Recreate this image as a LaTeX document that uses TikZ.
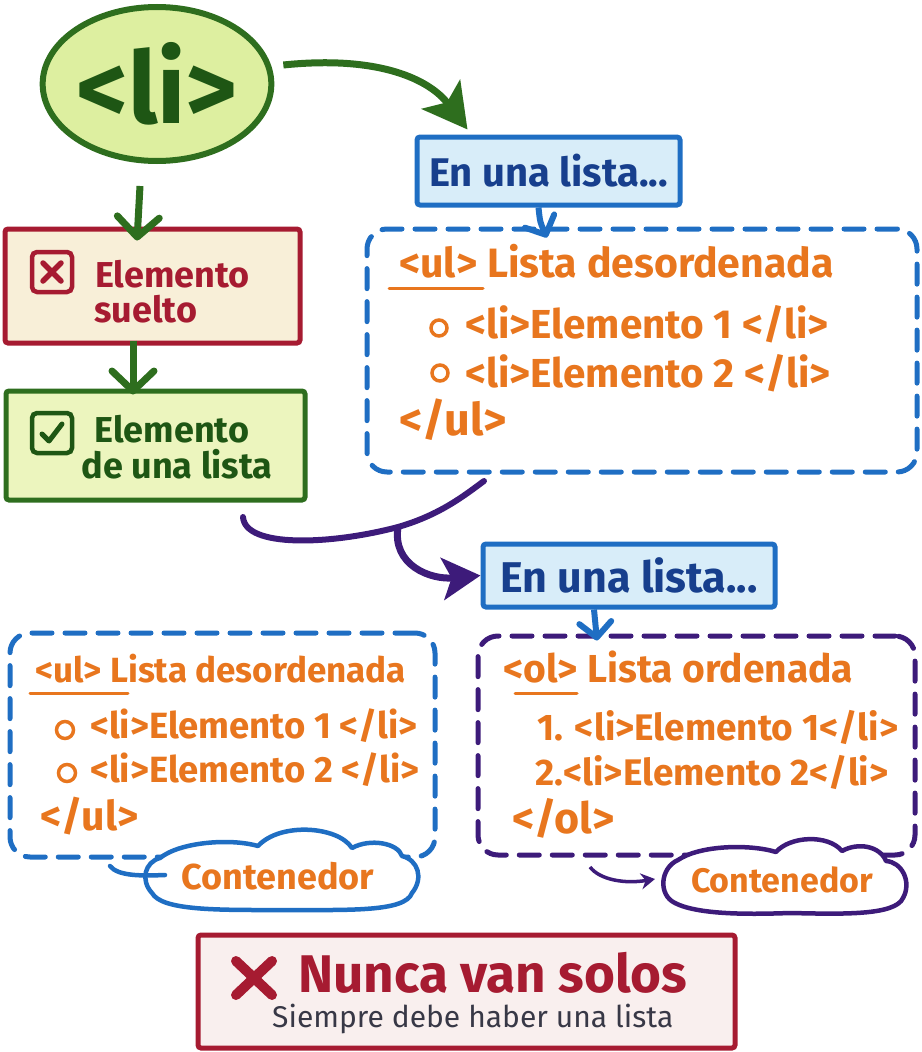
\documentclass[tikz,border=0pt]{standalone}
\usepackage{fontspec}
\setmainfont{Fira Sans}
\usetikzlibrary{arrows.meta,shapes.geometric,calc}
\definecolor{gline}{HTML}{2E6E1E}
\definecolor{gtext}{HTML}{1E5614}
\definecolor{gfillA}{HTML}{DDEFA0}
\definecolor{gfillB}{HTML}{ECF5BE}
\definecolor{crim}{HTML}{A61B31}
\definecolor{cream}{HTML}{F8EFD8}
\definecolor{bline}{HTML}{1F6EC3}
\definecolor{bfill}{HTML}{D8EDF9}
\definecolor{btext}{HTML}{173F8D}
\definecolor{oran}{HTML}{E8761E}
\definecolor{purp}{HTML}{3D1B7A}
\definecolor{pinkf}{HTML}{F9EFEE}
\definecolor{grayt}{HTML}{383846}
\newcommand\fsz[1]{\fontsize{#1}{#1}\selectfont}
\begin{document}
\begin{tikzpicture}[x=1pt,y=-1pt,
  sbox/.style={draw=#1, line width=5pt, rounded corners=3pt, inner sep=0pt},
  dbox/.style={draw=#1, line width=5pt, rounded corners=20pt, dash pattern=on 20pt off 13pt, line cap=round, inner sep=0pt},
  txt/.style={inner sep=0pt, anchor=base west},
  otxt/.style={txt, text=oran, font=\bfseries\fsz{#1}},
  garrow/.style={draw=gline, line width=7pt, -{Straight Barb[length=20pt,width=42pt,round]}},
  barrow/.style={draw=bline, line width=6pt, -{Straight Barb[length=15pt,width=32pt,round]}},
  bul/.style={draw=oran, line width=3.5pt},
  uline/.style={draw=oran, line width=3pt, line cap=round},
  cloudline/.style={draw=#1, fill=white, line width=4.5pt, line cap=round, line join=round},
]
\useasboundingbox (0,0) rectangle (921,1052);

% ---- li ellipse
\node[ellipse, draw=gline, fill=gfillA, line width=6pt, minimum width=226pt, minimum height=154pt, inner sep=0pt, text=gtext, font=\bfseries\fsz{100}] (li) at (157,84) {<li>};

% ---- red box
\node[sbox=crim, fill=cream, minimum width=295pt, minimum height=114pt] (red) at (152.5,286) {};
\node[draw=crim, line width=4.5pt, rounded corners=5pt, minimum size=40pt, inner sep=0pt] (xic) at (52,272) {};
\draw[crim, line width=5.5pt, line cap=round] ($(xic.center)+(-9,-9)$) -- ($(xic.center)+(9,9)$) ($(xic.center)+(-9,9)$) -- ($(xic.center)+(9,-9)$);
\node[txt, text=crim, font=\bfseries\fsz{36}] (r1) at (95,287) {Elemento};
\node[txt, text=crim, font=\bfseries\fsz{36}] (r2) at (94,322) {suelto};

% ---- green box
\node[sbox=gline, fill=gfillB, minimum width=299pt, minimum height=109pt] (grn) at (155.5,445.5) {};
\node[draw=gtext, line width=4.5pt, rounded corners=5pt, minimum size=40pt, inner sep=0pt] (ckic) at (52,433) {};
\draw[gtext, line width=5pt, line cap=round, line join=round] ($(ckic.center)+(-10,1)$) -- ($(ckic.center)+(-3,8)$) -- ($(ckic.center)+(10,-9)$);
\node[anchor=base, inner sep=0pt, text=gtext, font=\bfseries\fsz{36}] (g1) at (172,442) {Elemento};
\node[anchor=base, inner sep=0pt, text=gtext, font=\bfseries\fsz{36}] (g2) at (177,478) {de una lista};

% ---- En una lista boxes
\node[sbox=bline, fill=bfill, minimum width=263pt, minimum height=68pt, text=btext, font=\bfseries\fsz{40}] (en1) at (548.5,171) {En una lista...};
\node[sbox=bline, fill=bfill, minimum width=292pt, minimum height=63pt, text=btext, font=\bfseries\fsz{43}] (en2) at (629,575.5) {En una lista...};

% ---- dashed containers
\node[dbox=bline, minimum width=550pt, minimum height=243pt] (ul1) at (642,350.5) {};
\node[dbox=bline, minimum width=425pt, minimum height=224pt] (ul2) at (222.5,745) {};
\node[dbox=purp, minimum width=437pt, minimum height=219pt] (ol) at (696.5,745.5) {};

% ul1 contents
\node[otxt=41] (u1h) at (399,277) {<ul> Lista desordenada};
\draw[uline] (389,288) -- (483,288);
\draw[bul] (439,328) circle[radius=8];
\node[otxt=40.5] (u1a) at (465,338) {<li>Elemento 1 </li>};
\draw[bul] (440,373) circle[radius=8];
\node[otxt=40.5] (u1b) at (465,387) {<li>Elemento 2 </li>};
\node[otxt=45] (u1c) at (399,435) {</ul>};

% ul2 contents
\node[otxt=35] (u2h) at (35,682) {<ul> Lista desordenada};
\draw[uline] (30,693) -- (128,693);
\draw[bul] (65,730) circle[radius=8.5];
\node[otxt=36.5] (u2a) at (90,738) {<li>Elemento 1 </li>};
\draw[bul] (67,773) circle[radius=8.5];
\node[otxt=36.5] (u2b) at (90,782) {<li>Elemento 2 </li>};
\node[otxt=41] (u2c) at (40,830) {</ul>};

% ol contents
\node[otxt=39] (oh) at (503,682) {<ol> Lista ordenada};
\draw[uline] (515,693) -- (577,693);
\node[otxt=37] (oa) at (537,740) {1. <li>Elemento 1</li>};
\node[otxt=37] (ob) at (535,785) {2.<li>Elemento 2</li>};
\node[otxt=43] (oc) at (512,833) {</ol>};

% clouds
\draw[cloudline=bline] (160,858) .. controls (145,862) and (140,880) .. (152,893)
  .. controls (162,911) and (220,910) .. (282,910)
  .. controls (350,910) and (405,912) .. (412,893)
  .. controls (424,878) and (418,860) .. (402,856)
  .. controls (398,843) and (370,838) .. (352,848)
  .. controls (338,826) and (280,822) .. (258,846)
  .. controls (230,838) and (180,842) .. (160,858) -- cycle;
\node[inner sep=0pt, text=oran, font=\bfseries\fsz{36}] (c1) at (278,876) {Contenedor};
\draw[bline, line width=4.5pt, line cap=round] (110,866) .. controls (118,876) and (140,876) .. (165,875);

\draw[cloudline=purp] (678,860) .. controls (660,868) and (658,895) .. (675,903)
  .. controls (700,916) and (760,914) .. (790,913)
  .. controls (840,914) and (895,916) .. (903,898)
  .. controls (912,882) and (902,862) .. (886,861)
  .. controls (880,846) and (858,842) .. (842,851)
  .. controls (828,834) and (790,836) .. (776,852)
  .. controls (750,844) and (700,845) .. (678,860) -- cycle;
\node[inner sep=0pt, text=oran, font=\bfseries\fsz{34}] (c2) at (782,880) {Contenedor};
\coordinate (c2w) at (655,879);
\draw[purp, line width=3.5pt, -{Stealth[length=14pt,width=16pt]}] (590,867) .. controls (600,880) and (625,884) .. (c2w);

% bottom box
\node[sbox=crim, fill=pinkf, minimum width=537pt, minimum height=113pt] (nb) at (466.5,991.5) {};
\draw[crim, line width=10pt, line cap=round] (236,961) -- (272,995) (236,995) -- (272,961);
\node[txt, text=crim, font=\bfseries\fsz{53}] (nt) at (298,992) {Nunca van solos};
\node[txt, text=grayt, font=\fsz{30}] (st) at (272,1027) {Siempre debe haber una lista};

% ---- connectors
\draw[garrow] ([xshift=-17pt,yshift=-22pt]li.south) -- ([xshift=-15.5pt,yshift=-14pt]red.north);
\draw[garrow] ([xshift=-19.5pt,yshift=5pt]red.south) -- ([xshift=-22.5pt,yshift=-6pt]grn.north);
\draw[gline, line width=7pt, -{Stealth[length=44pt,width=48pt,inset=10pt]}] ([xshift=9pt,yshift=19pt]li.east) .. controls (380,55) and (430,80) .. ([xshift=53pt,yshift=5pt]en1.north west);
\draw[barrow] ([xshift=-10pt]en1.south) .. controls (540,222) .. ([xshift=-95pt,yshift=-11pt]ul1.north);
\draw[barrow] ([xshift=-35pt]en2.south) -- ([xshift=-99.5pt,yshift=-7pt]ol.north);

\coordinate (pA) at (243,517);
\coordinate (pM) at (398,527);
\coordinate (pB) at (484,481);
\draw[purp, line width=6pt, line cap=round] (pA) .. controls (245,548) and (330,545) .. (pM) .. controls (440,515) and (465,495) .. (pB);
\draw[purp, line width=7pt, -{Stealth[length=38pt,width=42pt,inset=9pt]}] (pM) .. controls (392,565) and (430,580) .. (en2.west);
\end{tikzpicture}
\end{document}
